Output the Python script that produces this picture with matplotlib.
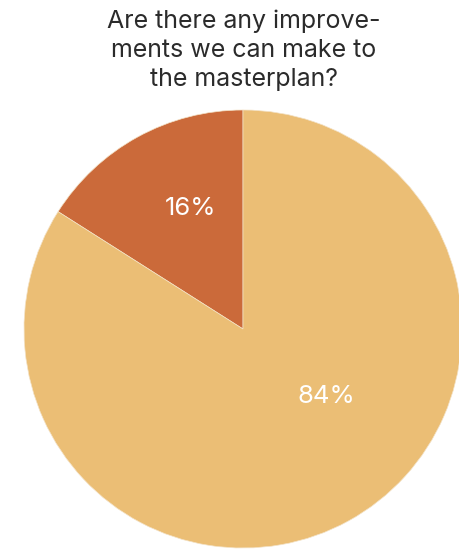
import numpy as np
import matplotlib.pyplot as plt

plt.rcParams['font.family'] = ['Inter', 'DejaVu Sans']

labels = ["No", "Yes"]
shares = [16, 84]
colors = ["#CB6A3A", "#EBBE75"]
title = "Are there any improve-\nments we can make to\nthe masterplan?"

fig = plt.figure(figsize=(4.59, 5.5), dpi=100)
ax = fig.add_axes([24 / 459, 2 / 550, 438 / 459, 438 / 550])

wedges, texts, autotexts = ax.pie(
    shares,
    colors=colors,
    startangle=90,
    counterclock=True,
    radius=1,
    autopct="%d%%",
    pctdistance=0.6,
    wedgeprops=dict(edgecolor="#f3e2c6", linewidth=0.5),
    textprops=dict(color="white", fontsize=18.5),
)
# nudge the labels a bit
autotexts[0].set_position((-0.24, 0.55))
autotexts[1].set_position((0.38, -0.31))

ax.set_xlim(-1, 1)
ax.set_ylim(-1, 1)
ax.set_aspect("equal")
ax.axis("off")

fig.text(0.531, 0.982, title, ha="center", va="top", fontsize=18,
         color="#2b2b2b", linespacing=1.33)

fig.savefig("out.png", dpi=100)
